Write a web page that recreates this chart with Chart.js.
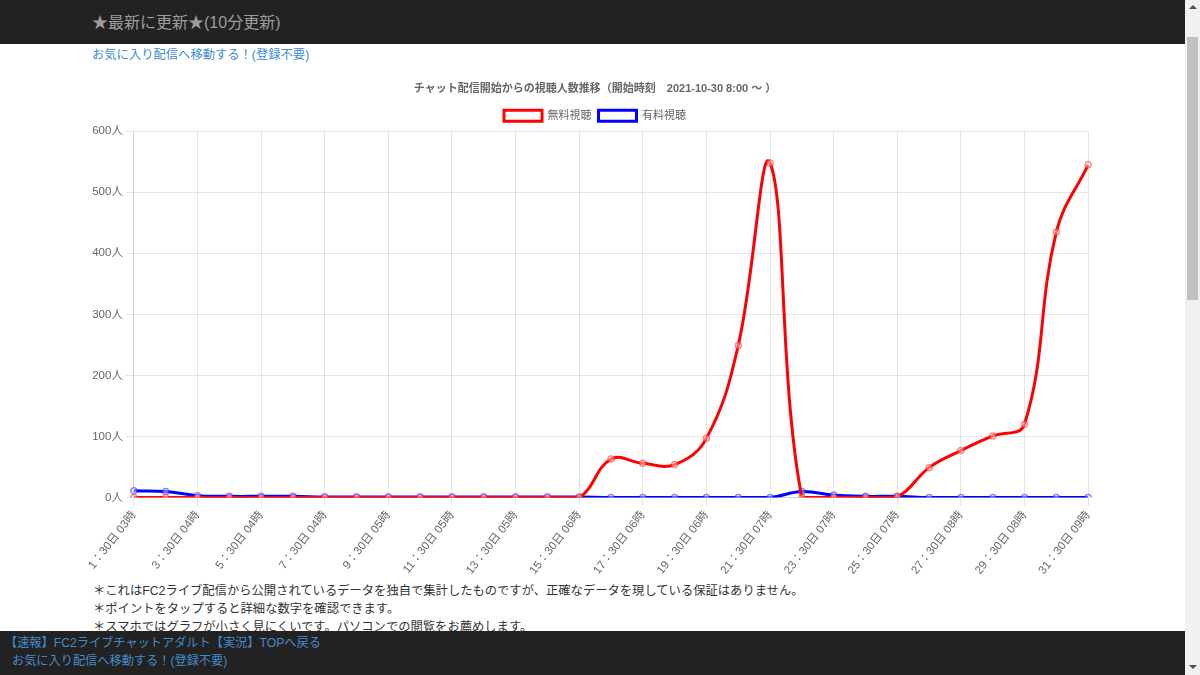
<!DOCTYPE html>
<html><head><meta charset="utf-8">
<script src="https://cdn.jsdelivr.net/npm/chart.js@4/dist/chart.umd.min.js"></script>
<style>
html,body{margin:0;padding:0;width:1200px;height:675px;overflow:hidden;background:#fff;font-family:'Liberation Sans','Noto Sans CJK JP',sans-serif;}
#top{position:absolute;left:0;top:0;width:1185px;height:44px;background:#222;}
#top span{position:absolute;left:92px;top:9px;font-size:16px;color:#9d9d9d;}
#fav{position:absolute;left:92px;top:45px;font-size:12.3px;color:#428bca;}
#wrap{position:absolute;left:88px;top:72px;width:1014px;height:508px;}
#notes{position:absolute;left:93px;top:582px;font-size:12.3px;color:#333;line-height:18px;white-space:nowrap;}
#bottom{position:absolute;left:0;top:631px;width:1185px;height:44px;background:#222;font-size:12.2px;color:#428bca;}
#bottom div{position:absolute;white-space:nowrap;}
#sb{position:absolute;left:1185px;top:0;width:15px;height:675px;background:#f1f1f1;}
#thumb{position:absolute;left:2px;top:37px;width:11px;height:263px;background:#c1c1c1;}
.arr{position:absolute;left:4px;width:0;height:0;border-left:4px solid transparent;border-right:4px solid transparent;}
</style></head><body>
<div id="top"><span>★最新に更新★(10分更新)</span></div>
<div id="fav">お気に入り配信へ移動する！(登録不要)</div>
<div id="wrap"><canvas id="c"></canvas></div>
<div id="notes">＊これはFC2ライブ配信から公開されているデータを独自で集計したものですが、正確なデータを現している保証はありません。<br>＊ポイントをタップすると詳細な数字を確認できます。<br>＊スマホではグラフが小さく見にくいです。パソコンでの閲覧をお薦めします。</div>
<div id="bottom"><div style="left:5px;top:2px;">【速報】FC2ライブチャットアダルト【実況】TOPへ戻る</div><div style="left:12px;top:20px;">お気に入り配信へ移動する！(登録不要)</div></div>
<div id="sb"><div class="arr" style="top:5px;border-bottom:4px solid #505050;"></div><div id="thumb"></div><div class="arr" style="top:665px;border-top:4px solid #505050;"></div></div>
<script>
const hours = ['03','03','04','04','04','04','04','04','05','05','05','05','05','05','06','06','06','06','06','06','07','07','07','07','07','07','08','08','08','08','09'];
const labels = hours.map((h,i)=>(i+1)+'：30日 '+h+'時');
const freeViewers = [0,0,0,0,0,0,0,0,0,0,0,0,0,0,0,63,56,54,97,249,548,0,0,0,1,49,77,101,120,435,545];
const paidViewers = [11,10,3,2,2,2,1,1,1,1,1,1,1,1,1,0,0,0,0,0,0,10,4,2,2,0,0,0,0,0,0];
const yTicks = [0,100,200,300,400,500,600];

Chart.defaults.font.family = "'Liberation Sans','Noto Sans CJK JP',sans-serif";
Chart.defaults.color = '#666';
new Chart(document.getElementById('c'), {
  type: 'line',
  data: {
    labels: labels,
    datasets: [
      {label:'無料視聴', data:freeViewers, borderColor:'#ff0000', backgroundColor:'#fff', borderWidth:3, tension:0.4, fill:false,
       pointRadius:3, pointBorderWidth:1.5, pointBorderColor:'rgba(255,40,40,0.55)', pointBackgroundColor:'rgba(255,255,255,0.4)'},
      {label:'有料視聴', data:paidViewers, borderColor:'#0000ff', backgroundColor:'#fff', borderWidth:3, tension:0.4, fill:false,
       pointRadius:3, pointBorderWidth:1.5, pointBorderColor:'rgba(40,40,255,0.55)', pointBackgroundColor:'rgba(255,255,255,0.4)'}
    ]
  },
  options: {
    responsive:true, maintainAspectRatio:false, animation:false,
    plugins:{
      title:{display:true, text:'チャット配信開始からの視聴人数推移（開始時刻　2021-10-30 8:00 ～ ）', font:{size:11, weight:'bold'}, padding:{top:10,bottom:8}},
      legend:{labels:{boxWidth:38, boxHeight:11, font:{size:11}, padding:7}},
      tooltip:{enabled:false}
    },
    scales:{
      x:{grid:{color:'rgba(0,0,0,0.1)'}, ticks:{autoSkip:true, maxTicksLimit:16, maxRotation:52, minRotation:52, font:{size:11.5}}},
      y:{min:0, max:600, grid:{color:'rgba(0,0,0,0.1)'},
         afterBuildTicks:(ax)=>{ax.ticks = yTicks.map(v=>({value:v}));},
         ticks:{font:{size:11.5}, callback:(v)=>v+'人'}}
    }
  }
});
</script>
</body></html>
